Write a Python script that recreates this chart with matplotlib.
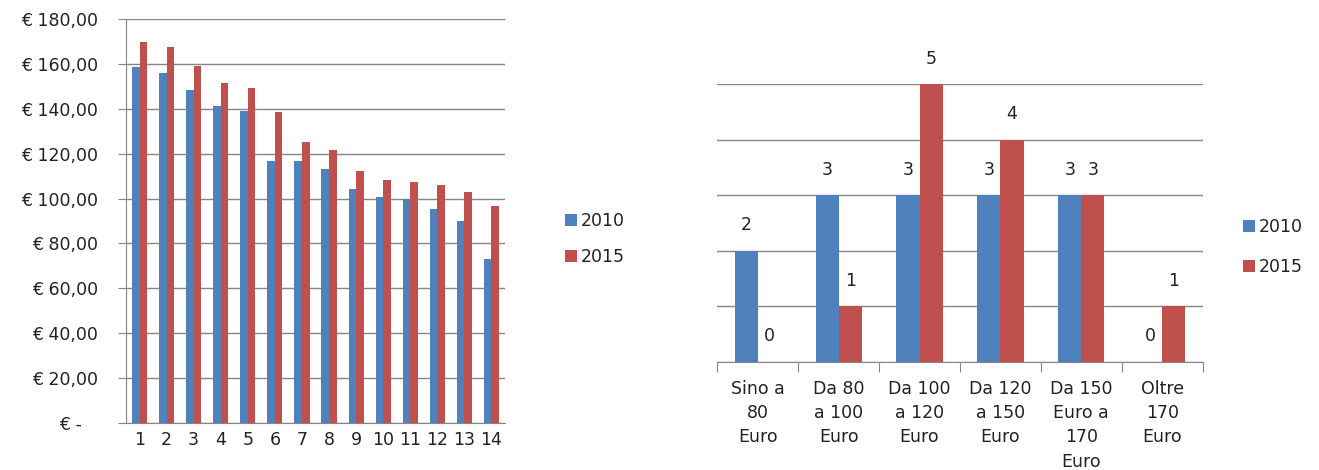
import matplotlib
matplotlib.use("Agg")
import matplotlib.pyplot as plt
import numpy as np

plt.rcParams['font.family'] = ['DejaVu Sans']

# ---- data: left chart ----
positions = [str(i) for i in range(1, 15)]
price_2010 = [158.4, 155.8, 148.3, 141.3, 139.0, 116.7, 116.7, 113.3, 104.1, 100.7, 99.9, 95.5, 89.8, 73.2]
price_2015 = [169.9, 167.6, 159.0, 151.6, 149.4, 138.4, 125.3, 121.8, 112.1, 108.1, 107.5, 105.9, 103.0, 96.7]
left_yticks = [0, 20, 40, 60, 80, 100, 120, 140, 160, 180]
left_yticklabels = ['€ -   ', '€ 20,00', '€ 40,00', '€ 60,00', '€ 80,00', '€ 100,00',
                    '€ 120,00', '€ 140,00', '€ 160,00', '€ 180,00']

# ---- data: right chart ----
ranges = ['Sino a\n80\nEuro', 'Da 80\na 100\nEuro', 'Da 100\na 120\nEuro',
          'Da 120\na 150\nEuro', 'Da 150\nEuro a\n170\nEuro', 'Oltre\n170\nEuro']
count_2010 = [2, 3, 3, 3, 3, 0]
count_2015 = [0, 1, 5, 4, 3, 1]

series_labels = ['2010', '2015']
c2010 = '#4F81BD'
c2015 = '#C0504D'
grid_c = '#868686'
txt_c = '#222222'
fs = 12.5

fig = plt.figure(figsize=(13.19, 4.70), dpi=100)

# ---------------- left chart ----------------
ax1 = fig.add_axes([126/1319, 1-423/470, (505-126)/1319, (423-19)/470])
x = np.arange(len(positions))
w = 0.28
ax1.bar(x - w/2, price_2010, w, color=c2010, label=series_labels[0], zorder=3)
ax1.bar(x + w/2, price_2015, w, color=c2015, label=series_labels[1], zorder=3)
ax1.set_xlim(-0.5, len(positions) - 0.5)
ax1.set_ylim(0, 180)
ax1.set_yticks(left_yticks)
ax1.set_yticklabels(left_yticklabels, fontsize=fs, color=txt_c)
ax1.set_xticks(x)
ax1.set_xticklabels(positions, fontsize=fs, color=txt_c)
ax1.tick_params(axis='x', length=0, pad=6)
ax1.tick_params(axis='y', length=6, color=grid_c, pad=14)
ax1.yaxis.grid(True, color=grid_c, linewidth=1.0, zorder=0)
ax1.set_axisbelow(True)
for s in ['top', 'right']:
    ax1.spines[s].set_visible(False)
ax1.spines['left'].set_color(grid_c)
ax1.spines['bottom'].set_color(grid_c)
leg1 = ax1.legend(loc='center left', bbox_to_anchor=(558/1319, 1-239/470), bbox_transform=fig.transFigure,
                  frameon=False, fontsize=fs, handlelength=0.7, handleheight=0.7,
                  handletextpad=0.2, labelspacing=1.0, borderaxespad=0)
for t in leg1.get_texts():
    t.set_color(txt_c)

# ---------------- right chart ----------------
ax2 = fig.add_axes([717.3/1319, 1-361.7/470, (1202.7-717.3)/1319, (361.7-84.3)/470])
x2 = np.arange(len(ranges))
w2 = 0.285
r1 = ax2.bar(x2 - w2/2, count_2010, w2, color=c2010, label=series_labels[0], zorder=3)
r2 = ax2.bar(x2 + w2/2, count_2015, w2, color=c2015, label=series_labels[1], zorder=3)
ax2.bar_label(r1, padding=12, fontsize=fs, color=txt_c)
ax2.bar_label(r2, padding=12, fontsize=fs, color=txt_c)
ax2.set_xlim(-0.5, len(ranges) - 0.5)
ax2.set_ylim(0, 5)
ax2.set_yticks(range(0, 6))
ax2.set_yticklabels([])
ax2.tick_params(axis='y', length=0)
ax2.yaxis.grid(True, color=grid_c, linewidth=1.0, zorder=0)
ax2.set_axisbelow(True)
ax2.set_xticks(np.arange(-0.5, len(ranges), 1.0), minor=False)
ax2.set_xticklabels([])
ax2.tick_params(axis='x', which='major', length=7, color=grid_c)
ax2.set_xticks(x2, minor=True)
ax2.set_xticklabels(ranges, minor=True, fontsize=fs, linespacing=1.45, color=txt_c)
ax2.tick_params(axis='x', which='minor', length=0, pad=13)
for s in ['top', 'right', 'left']:
    ax2.spines[s].set_visible(False)
ax2.spines['bottom'].set_color(grid_c)
leg2 = ax2.legend(loc='center left', bbox_to_anchor=(1236/1319, 1-247/470), bbox_transform=fig.transFigure,
                  frameon=False, fontsize=fs, handlelength=0.7, handleheight=0.7,
                  handletextpad=0.2, labelspacing=1.3, borderaxespad=0)
for t in leg2.get_texts():
    t.set_color(txt_c)

fig.savefig('out.png', dpi=100)
